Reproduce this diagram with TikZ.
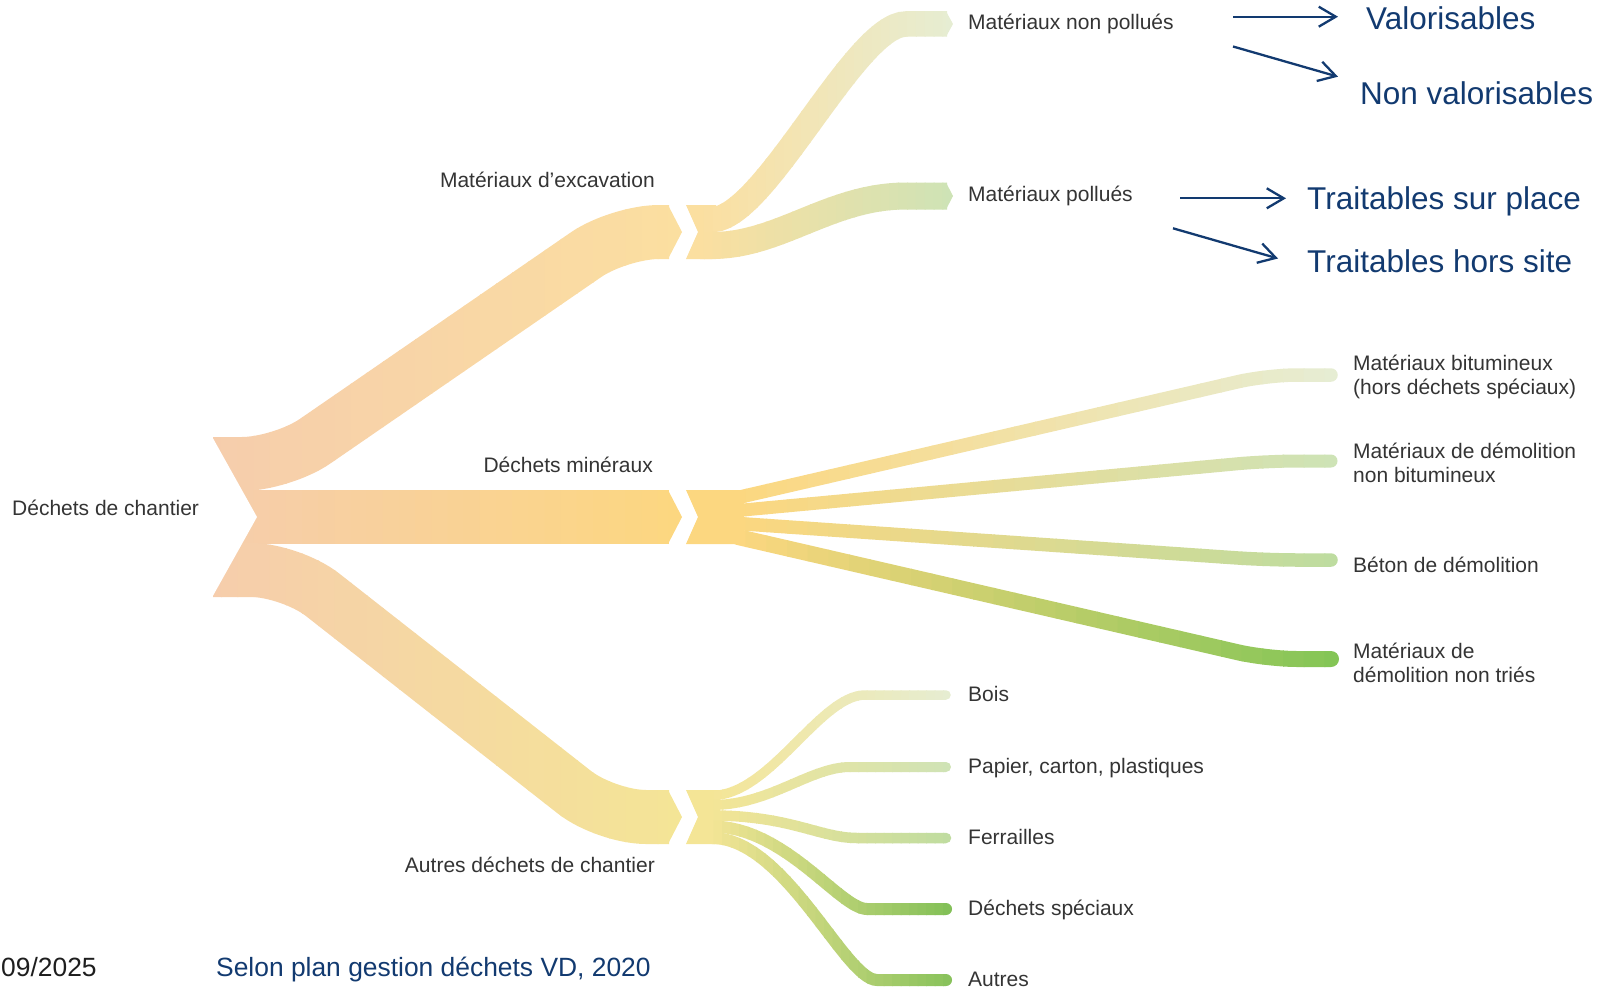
\documentclass[tikz,border=0pt]{standalone}
\usepackage{fontspec}
\setmainfont{Liberation Sans}
\usepackage{xcolor}
\usetikzlibrary{arrows.meta}

\definecolor{racine}{RGB}{246,205,172}
\definecolor{excavfin}{RGB}{251,223,160}
\definecolor{minerfin}{RGB}{252,215,128}
\definecolor{autrefin}{RGB}{244,229,150}
\definecolor{vertpale}{RGB}{230,237,211}
\definecolor{vertclair}{RGB}{206,227,182}
\definecolor{vertmoyen}{RGB}{190,220,160}
\definecolor{vertfort}{RGB}{132,197,86}
\definecolor{vertspec}{RGB}{128,191,86}
\definecolor{vertautre}{RGB}{134,193,90}
\definecolor{gristexte}{RGB}{52,52,52}
\definecolor{marine}{RGB}{18,58,112}
\definecolor{noirdate}{RGB}{30,30,30}

% ribbon with a left-to-right colour gradient:
% x from, x to, colour from, colour to, draw options, path
\newcommand{\ruban}[6]{%
  \foreach \k in {0,...,29}{%
    \pgfmathsetmacro{\xa}{#1+(#2-#1)/30*\k}%
    \pgfmathsetmacro{\xb}{#1+(#2-#1)/30*(\k+1)+1}%
    \pgfmathtruncatemacro{\pct}{round(100/29*\k)}%
    \begin{scope}
      \clip (\xa,-20) rectangle (\xb,1010);
      \draw[#5, draw=#4!\pct!#3] #6;
    \end{scope}
  }%
}

\begin{document}
\begin{tikzpicture}[x=1pt, y=-1pt,
  lbl/.style={font=\fontsize{21}{24}\selectfont, text=gristexte, inner sep=0pt},
  bleu/.style={font=\fontsize{31.5}{36}\selectfont, text=marine, inner sep=0pt, anchor=base west},
  pied/.style={font=\fontsize{26.4}{30}\selectfont, inner sep=0pt},
  fleche/.style={marine, line width=2.3pt, -{Straight Barb[length=17pt, width=20pt]}},
  gros/.style={line width=54pt, rounded corners=40pt},
  brin/.style={line width=#1, line cap=round, rounded corners=30pt}
]
\useasboundingbox (0,0) rectangle (1614,990);

% root ribbons
\ruban{205}{690}{racine}{excavfin}{gros}{(213,464) -- (282,464) -- (619,232) -- (669,232)}
\ruban{205}{690}{racine}{minerfin}{gros}{(213,517) -- (669,517)}
\ruban{205}{690}{racine}{autrefin}{gros}{(213,570) -- (291,570) -- (606,817) -- (669,817)}
\fill[white] (205,424) -- (257,517) -- (205,610) -- cycle;

% chevrons at the three nodes
\fill[excavfin] (668,205) -- (682,232) -- (668,259) -- cycle;
\fill[minerfin] (668,490) -- (682,517) -- (668,544) -- cycle;
\fill[autrefin] (668,790) -- (682,817) -- (668,844) -- cycle;
\fill[excavfin] (686,205) -- (716,205) -- (716,259) -- (686,259) -- (698,232) -- cycle;
\fill[minerfin] (686,490) -- (744,490) -- (744,544) -- (686,544) -- (698,517) -- cycle;
\fill[autrefin] (686,790) -- (720,790) -- (720,844) -- (686,844) -- (698,817) -- cycle;

% excavation
\ruban{695}{960}{excavfin}{vertpale}{line width=25.5pt}{(700,219.5) -- (712,219.5) .. controls (765,219.5) and (855,24) .. (906,24) -- (947,24)}
\ruban{695}{960}{excavfin}{vertclair}{line width=27pt}{(700,245.5) -- (712,245.5) .. controls (780,245.5) and (830,196) .. (906,196) -- (947,196)}
\fill[vertpale] (946,11.25) -- (953,24) -- (946,36.75) -- cycle;
\fill[vertclair] (946,182.5) -- (953,196) -- (946,209.5) -- cycle;

% mineraux
\ruban{725}{1345}{minerfin}{vertpale}{brin=13.5pt}{(738,497.5) -- (1267,375) -- (1331,375)}
\ruban{725}{1345}{minerfin}{vertclair}{brin=13pt}{(738,510.5) -- (1267,461) -- (1331,461)}
\ruban{725}{1345}{minerfin}{vertmoyen}{brin=13.5pt}{(738,523.5) -- (1267,560) -- (1331,560)}
\ruban{725}{1345}{minerfin}{vertfort}{brin=16pt}{(738,537) -- (1267,659) -- (1331,659)}

% autres dechets
\ruban{705}{960}{autrefin}{vertpale}{brin=9.5pt}{(712,795.5) .. controls (770,795.5) and (820,695) .. (895,695) -- (946,695)}
\ruban{705}{960}{autrefin}{vertclair}{brin=10pt}{(712,805) .. controls (770,805) and (810,767) .. (880,767) -- (946,767)}
\ruban{705}{960}{autrefin}{vertmoyen}{brin=10.5pt}{(712,815.5) .. controls (790,815.5) and (820,838) .. (887,838) -- (946,838)}
\ruban{705}{960}{autrefin}{vertspec}{brin=12pt}{(712,826.5) .. controls (785,826.5) and (840,909) .. (897,909) -- (946,909)}
\ruban{705}{960}{autrefin}{vertautre}{brin=12pt}{(712,838) .. controls (785,838) and (845,980) .. (907,980) -- (946,980)}

% labels
\node[lbl, anchor=base west] (chantier) at (12,515) {Déchets de chantier};
\node[lbl, anchor=base east] (excav) at (655,187) {Matériaux d'excavation};
\node[lbl, anchor=base east] (miner) at (653,472) {Déchets minéraux};
\node[lbl, anchor=base east] (autres) at (655,872) {Autres déchets de chantier};
\node[lbl, anchor=base west] (npol) at (968,30) {Matériaux non pollués};
\node[lbl, anchor=base west] (pol) at (968,201.5) {Matériaux pollués};
\node[lbl, anchor=west, align=left] (bitu) at (1353,377) {Matériaux bitumineux\\(hors déchets spéciaux)};
\node[lbl, anchor=west, align=left] (nbitu) at (1353,463) {Matériaux de démolition\\non bitumineux};
\node[lbl, anchor=base west] (beton) at (1353,572) {Béton de démolition};
\node[lbl, anchor=west, align=left] (ntries) at (1353,663) {Matériaux de\\démolition non triés};
\node[lbl, anchor=base west] (bois) at (968,701) {Bois};
\node[lbl, anchor=base west] (papier) at (968,773) {Papier, carton, plastiques};
\node[lbl, anchor=base west] (ferr) at (968,844) {Ferrailles};
\node[lbl, anchor=base west] (spec) at (968,915) {Déchets spéciaux};
\node[lbl, anchor=base west] (autreL) at (968,986) {Autres};

% blue notes
\node[bleu] (valo) at (1366,29.5) {Valorisables};
\node[bleu] (nvalo) at (1360,104) {Non valorisables};
\node[bleu] (tsp) at (1307,209.5) {Traitables sur place};
\node[bleu] (ths) at (1307,272) {Traitables hors site};

\coordinate (a1) at (1233,16.7);
\coordinate (b1) at (1338,16.7);
\coordinate (a2) at (1233,46.5);
\coordinate (b2) at (1338,76.7);
\coordinate (a3) at (1180,198.3);
\coordinate (b3) at (1286,198.3);
\coordinate (a4) at (1173,228.3);
\coordinate (b4) at (1278,258.5);
\draw[fleche] (a1) -- (b1);
\draw[fleche] (a2) -- (b2);
\draw[fleche] (a3) -- (b3);
\draw[fleche] (a4) -- (b4);

% footer
\node[pied, text=noirdate, anchor=base west] (date) at (1,976) {09/2025};
\node[pied, text=marine, anchor=base west] (source) at (216,976) {Selon plan gestion déchets VD, 2020};
\end{tikzpicture}
\end{document}
